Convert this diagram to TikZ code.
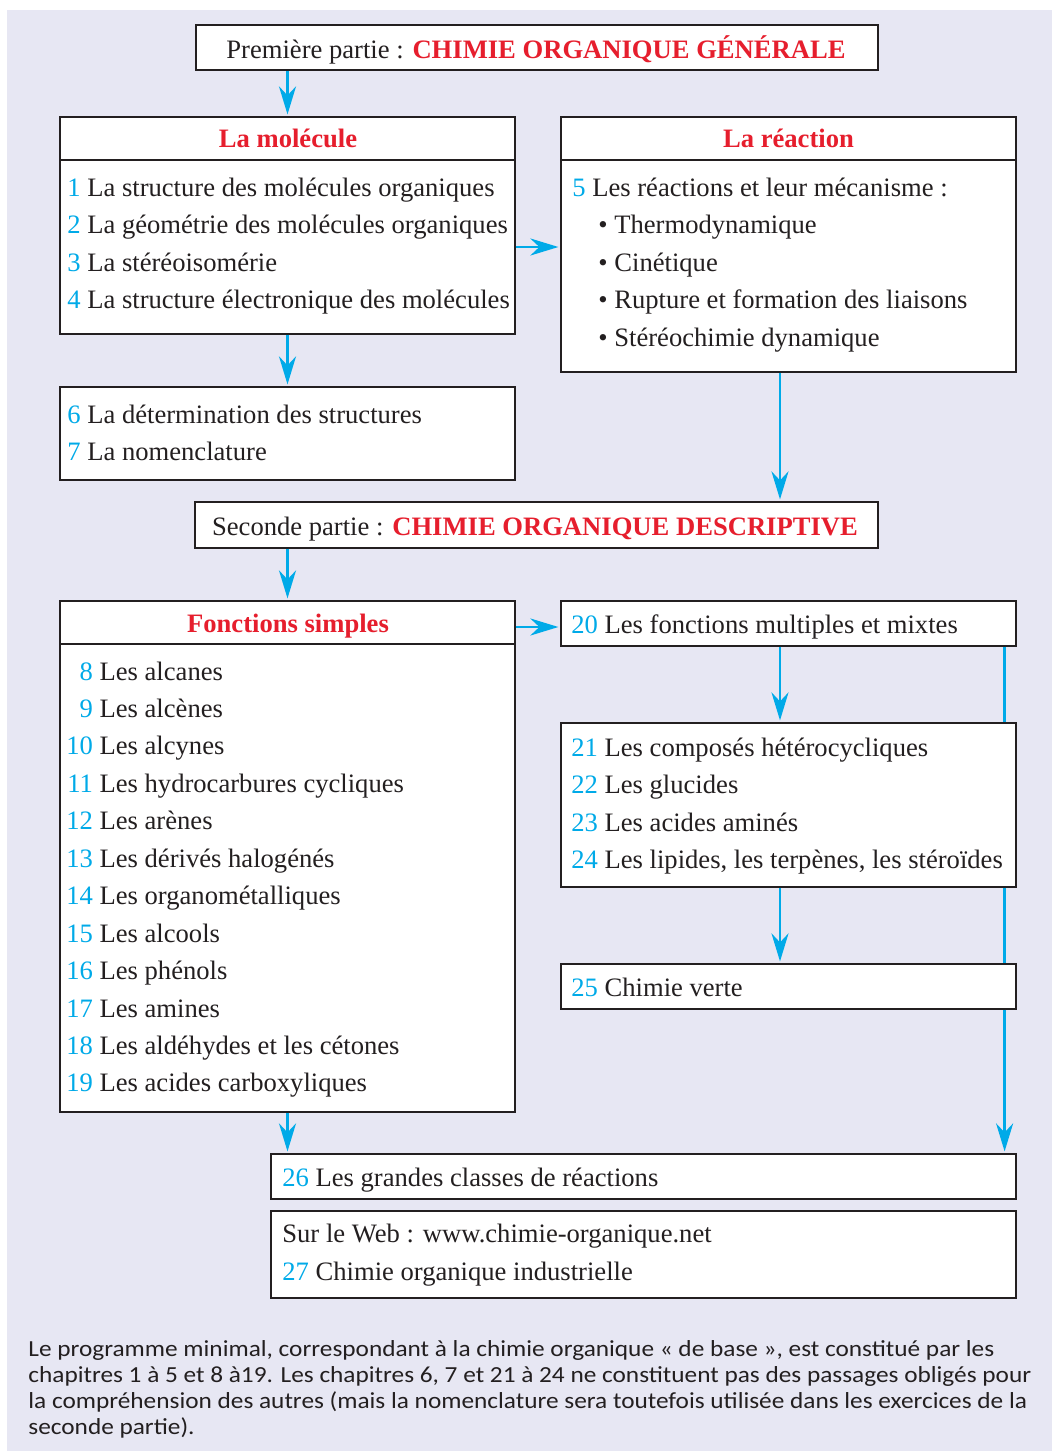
\documentclass[tikz,border=0pt]{standalone}
\usepackage{fontspec}
\setmainfont{Liberation Serif}
\newfontfamily\notefont[FakeStretch=1.1]{Carlito}
\usetikzlibrary{arrows.meta,fit}
\definecolor{fond}{RGB}{231,231,243}
\definecolor{rouge}{RGB}{230,30,45}
\definecolor{bleu}{RGB}{0,170,232}
\definecolor{encre}{RGB}{35,31,32}
\newcommand{\nm}[1]{\textcolor{bleu}{#1}}
\newcommand{\titre}[1]{\textcolor{rouge}{\bfseries #1}}
\newcommand{\rnm}[1]{\makebox[13.3pt][r]{\nm{#1}}}

\begin{document}
\begin{tikzpicture}[x=0.5pt,y=-0.5pt,
  cadre/.style={draw=encre,fill=white,line width=0.6pt,inner sep=0pt},
  txt/.style={anchor=base west,inner sep=0pt,text=encre,font=\fontsize{13.3}{16}\selectfont},
  tete/.style={anchor=base,inner sep=0pt,text=rouge,font=\fontsize{13.3}{16}\selectfont\bfseries},
  fl/.style={draw=bleu,line width=1.4pt,shorten >=1pt,-{Stealth[length=14pt,width=8.5pt,inset=4.5pt]}}]
  \useasboundingbox (0,0) rectangle (1052,1451);
  \fill[fond] (7,10) rectangle (1052,1451);
  % premiere partie
  \node[cadre,fit={(196,25) (878,70)}] (p1) {};
  \node[tete,text=encre,font=\fontsize{13.3}{16}\selectfont] (p1t) at (536,58) {Première partie : \titre{CHIMIE ORGANIQUE GÉNÉRALE}};
  \node[cadre,fit={(60,117) (515,160)}] (molT) {};
  \node[cadre,fit={(60,160) (515,334)}] (molB) {};
  \node[tete] (molt) at (288,147) {La molécule};
  \node[txt] (m1) at (67,196) {\nm{1} La structure des molécules organiques};
  \node[txt] (m2) at (67,233.5) {\nm{2} La géométrie des molécules organiques};
  \node[txt] (m3) at (67,271) {\nm{3} La stéréoisomérie};
  \node[txt] (m4) at (67,308.5) {\nm{4} La structure électronique des molécules};
  \node[cadre,fit={(561,117) (1016,160)}] (reacT) {};
  \node[cadre,fit={(561,160) (1016,372)}] (reacB) {};
  \node[tete] (react) at (788.5,147) {La réaction};
  \node[txt] (r5) at (572,196) {\nm{5} Les réactions et leur mécanisme :};
  \foreach \t [count=\k] in {Thermodynamique,Cinétique,Rupture et formation des liaisons,Stéréochimie dynamique}
    \node[txt] (r\k) at (598,{196+37.5*\k}) {\textbullet\ \t};
  \node[cadre,fit={(60,387) (515,480)}] (b67) {};
  \node[txt] (m6) at (67,423) {\nm{6} La détermination des structures};
  \node[txt] (m7) at (67,460.5) {\nm{7} La nomenclature};
  % seconde partie
  \node[cadre,fit={(195,502) (878,548)}] (p2) {};
  \node[tete,text=encre,font=\fontsize{13.3}{16}\selectfont] (p2t) at (535,535) {Seconde partie : \titre{CHIMIE ORGANIQUE DESCRIPTIVE}};
  \node[cadre,fit={(60,601) (515,644)}] (foncT) {};
  \node[cadre,fit={(60,644) (515,1112)}] (foncB) {};
  \node[tete] (fonct) at (288,632) {Fonctions simples};
  \foreach \n/\t [count=\k from 0] in {8/Les alcanes,9/Les alcènes,10/Les alcynes,11/Les hydrocarbures cycliques,
      12/Les arènes,13/Les dérivés halogénés,14/Les organométalliques,15/Les alcools,16/Les phénols,
      17/Les amines,18/Les aldéhydes et les cétones,19/Les acides carboxyliques}
    \node[txt] (f\n) at (66,{680+37.45*\k}) {\rnm{\n} \t};
  \node[cadre,fit={(561,601) (1016,646)}] (b20) {};
  \node[txt] (f20) at (571,633) {\nm{20} Les fonctions multiples et mixtes};
  \node[cadre,fit={(561,723) (1016,887)}] (b21) {};
  \foreach \n/\t [count=\k from 0] in {21/Les composés hétérocycliques,22/Les glucides,23/Les acides aminés,
      24/{Les lipides, les terpènes, les stéroïdes}}
    \node[txt] (f\n) at (571,{756+37.5*\k}) {\nm{\n} \t};
  \node[cadre,fit={(561,964) (1016,1009)}] (b25) {};
  \node[txt] (f25) at (571,996) {\nm{25} Chimie verte};
  \node[cadre,fit={(271,1154) (1016,1199)}] (b26) {};
  \node[txt] (f26) at (282,1186) {\nm{26} Les grandes classes de réactions};
  \node[cadre,fit={(271,1211) (1016,1298)}] (web) {};
  \node[txt] (w1) at (282,1242) {Sur le Web : www.chimie-organique.net};
  \node[txt] (f27) at (282,1280) {\nm{27} Chimie organique industrielle};
  % fleches
  \draw[fl] (p1.south -| molT.north) -- (molT.north);
  \draw[fl] (molB.east) -- (molB.east -| reacB.west);
  \draw[fl] (molB.south) -- (b67.north);
  \draw[fl] ([xshift=-4.25pt]reacB.south) -- ([xshift=-4.25pt]reacB.south |- p2.north);
  \draw[fl] (p2.south -| foncT.north) -- (foncT.north);
  \draw[fl] ([yshift=-1.75pt]b20.west -| foncT.east) -- ([yshift=-1.75pt]b20.west);
  \draw[fl] ([xshift=-4.25pt]b20.south) -- ([xshift=-4.25pt]b21.north);
  \draw[fl] ([xshift=-4.25pt]b21.south) -- ([xshift=-4.25pt]b25.north);
  \draw[fl] (foncB.south) -- (foncB.south |- b26.north);
  \draw[draw=bleu,line width=1.4pt] ([xshift=-6pt]b20.south east) -- ([xshift=-6pt]b21.north east)
    ([xshift=-6pt]b21.south east) -- ([xshift=-6pt]b25.north east);
  \draw[fl] ([xshift=-6pt]b25.south east) -- ([xshift=-6pt]b26.north east);
  % note
  \node[anchor=north west,inner sep=0pt,align=left,text=encre,font=\notefont\fontsize{11.5}{13}\selectfont] (note) at (28,1340)
    {Le programme minimal, correspondant à la chimie organique « de base », est constitué par les\\
     chapitres 1 à 5 et 8 à19. Les chapitres 6, 7 et 21 à 24 ne constituent pas des passages obligés pour\\
     la compréhension des autres (mais la nomenclature sera toutefois utilisée dans les exercices de la\\
     seconde partie).};
\end{tikzpicture}
\end{document}
